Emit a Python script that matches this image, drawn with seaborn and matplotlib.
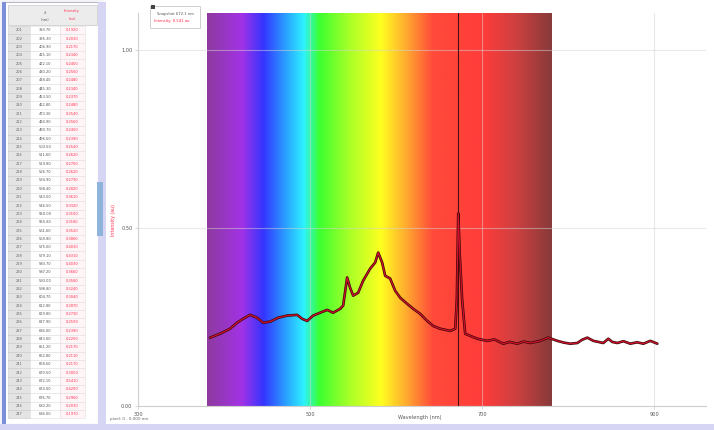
import numpy as np
import pandas as pd
import matplotlib
matplotlib.use("Agg")
import matplotlib.pyplot as plt
import matplotlib.patheffects as pe
from matplotlib.colors import LinearSegmentedColormap
from matplotlib.patches import Rectangle
import seaborn as sns

# ---------------- data ----------------
wavelength = [383.7, 395.3, 406.9, 415.1, 422.1, 430.2, 438.4, 445.3, 453.5, 462.8,
              473.3, 484.9, 490.7, 496.5, 503.5, 511.6, 519.8, 526.7, 534.9, 538.4,
              543.0, 546.5, 550.0, 555.8, 561.6, 569.8, 575.6, 579.1, 583.7, 587.2,
              593.0, 598.8, 604.7, 612.8, 619.8, 627.9, 636.0, 643.0, 651.2, 662.8,
              668.6, 670.5, 672.1, 674.0, 676.7, 680.2, 686.0, 694.2, 705.8, 714.0,
              724.4, 732.0, 740.7, 748.0, 755.8, 767.4, 776.7, 787.2, 795.0, 802.3,
              810.5, 816.0, 822.1, 829.1, 840.7, 846.5, 851.0, 857.0, 864.0, 872.1,
              880.0, 887.2, 895.3, 903.5]
intensity = [0.192, 0.203, 0.217, 0.234, 0.245, 0.256, 0.248, 0.234, 0.237, 0.248,
             0.254, 0.256, 0.245, 0.239, 0.254, 0.262, 0.270, 0.262, 0.273, 0.282,
             0.361, 0.332, 0.310, 0.318, 0.352, 0.386, 0.403, 0.431, 0.403, 0.366,
             0.358, 0.324, 0.304, 0.287, 0.273, 0.259, 0.239, 0.225, 0.217, 0.211,
             0.217, 0.300, 0.541, 0.420, 0.296, 0.203, 0.197, 0.189, 0.183, 0.187,
             0.175, 0.180, 0.175, 0.181, 0.177, 0.183, 0.192, 0.183, 0.178, 0.175,
             0.177, 0.186, 0.192, 0.183, 0.177, 0.189, 0.180, 0.177, 0.182, 0.175,
             0.179, 0.175, 0.183, 0.175]
cursor_nm = 672.1
x_major = [300, 500, 700, 900]
x_minor = [400, 600, 800]
y_ticks = [0.0, 0.5, 1.0]
y_labels = ["0.00", "0.50", "1.00"]
band_nm = [380, 420, 445, 470, 492, 510, 545, 582, 612, 642, 700, 740, 780]
band_colors = ["#8e3aa0", "#a232e6", "#3434ff", "#2a9cff", "#2ef2ff", "#3cff30",
               "#a8ff28", "#ffff20", "#ffa830", "#ff4a3a", "#ff3c3a", "#cc4040", "#883a3a"]

df = pd.DataFrame({"wavelength": wavelength, "intensity": intensity})

W, H = 714, 430
fig = plt.figure(figsize=(W / 100, H / 100), dpi=100)
sns.set_style("white")
fig.patch.set_facecolor("white")


def fx(x):
    return x / W


def fy(y):
    return 1 - y / H


def prect(x0, y0, x1, y1, **kw):
    fig.patches.append(Rectangle((fx(x0), fy(y1)), fx(x1) - fx(x0), fy(y0) - fy(y1),
                                 transform=fig.transFigure, **kw))


# ---------------- left table panel ----------------
prect(0, 0, 104, 430, facecolor="#f4f4f8", edgecolor="none")
prect(2, 2, 98, 424, facecolor="white", edgecolor="#b8b8c8", lw=0.8)
prect(2, 2, 6, 424, facecolor="#7d8fd8", edgecolor="none")
prect(98, 2, 106, 426, facecolor="#d6d6f4", edgecolor="none")
prect(97, 182, 103, 236, facecolor="#8fb4dc", edgecolor="none")
prect(0, 424, 714, 430, facecolor="#d6d6f4", edgecolor="none")

prect(8, 5, 97, 25, facecolor="#ececec", edgecolor="#c8c8c8", lw=0.5)
fig.text(fx(45), fy(13), "λ", fontsize=3, color="#555555", ha="center", va="center")
fig.text(fx(45), fy(20), "(nm)", fontsize=2.6, color="#555555", ha="center", va="center")
fig.text(fx(72), fy(11), "Intensity", fontsize=2.6, color="#ff3355", ha="center", va="center")
fig.text(fx(72), fy(19), "(au)", fontsize=2.6, color="#ff3355", ha="center", va="center")

n_rows = 47
row_h = 8.35
y0 = 26
for i in range(n_rows):
    yt = y0 + i * row_h
    prect(8, yt, 30, yt + row_h, facecolor="#e4e4e4", edgecolor="#c8c8c8", lw=0.4)
    prect(30, yt, 60, yt + row_h, facecolor="white", edgecolor="#e0e0e0", lw=0.4)
    prect(60, yt, 85, yt + row_h, facecolor="#fff4f6", edgecolor="#e0e0e0", lw=0.4)
    yc = yt + row_h / 2
    fig.text(fx(19), fy(yc), f"{201 + i}", fontsize=2.6, color="#666666", ha="center", va="center")
    fig.text(fx(45), fy(yc), f"{wavelength[i]:.2f}", fontsize=2.6, color="#555555",
             ha="center", va="center")
    fig.text(fx(72), fy(yc), f"{intensity[i]:.4f}", fontsize=2.6, color="#ff3355",
             ha="center", va="center")

# ---------------- main axes ----------------
ax_l, ax_r, ax_t, ax_b = 138, 706, 13, 406
ax = fig.add_axes([fx(ax_l), fy(ax_b), fx(ax_r) - fx(ax_l), fy(ax_t) - fy(ax_b)])
ax.set_facecolor("white")
xmin, xmax = 300, 960
ymin, ymax = 0.0, 1.104
ax.set_xlim(xmin, xmax)
ax.set_ylim(ymin, ymax)

stops = [(w - band_nm[0]) / (band_nm[-1] - band_nm[0]) for w in band_nm]
cmap = LinearSegmentedColormap.from_list("vis", list(zip(stops, band_colors)))
grad = np.linspace(0, 1, 512)[None, :]
ax.imshow(grad, cmap=cmap, aspect="auto", extent=[band_nm[0], band_nm[-1], ymin, ymax],
          zorder=0.5, interpolation="bilinear")

ax.set_xticks(x_major)
ax.set_xticks(x_minor, minor=True)
ax.set_xticklabels([str(v) for v in x_major])
ax.set_yticks(y_ticks)
ax.set_yticklabels(y_labels)
ax.set_axisbelow(False)
ax.grid(True, which="major", color="#d4d4d4", lw=0.8, alpha=0.5)
for g in ax.get_xgridlines() + ax.get_ygridlines():
    g.set_zorder(1)

sns.lineplot(data=df, x="wavelength", y="intensity", ax=ax, color="#d0102c", lw=0.9,
             zorder=3, path_effects=[pe.Stroke(linewidth=1.9, foreground="#3a0808"), pe.Normal()])
ax.axvline(cursor_nm, color="#4a1010", lw=0.8, zorder=2.8)

ax.set_xlabel("")
ax.set_ylabel("")
for s in ["top", "right"]:
    ax.spines[s].set_visible(False)
for s in ["left", "bottom"]:
    ax.spines[s].set_color("#cfcfcf")
    ax.spines[s].set_linewidth(0.8)
ax.tick_params(axis="both", which="major", labelsize=3.6, colors="#cfcfcf", labelcolor="#555555",
               length=2, width=0.6, pad=2)
ax.tick_params(axis="x", which="minor", length=2, width=0.6, colors="#aaaaaa")
ax.tick_params(axis="x", which="major", bottom=True)
ax.tick_params(axis="y", which="major", left=True)

# axis titles
fig.text(fx(420), fy(418), "Wavelength (nm)", fontsize=3.6, color="#555555", ha="center", va="center")
fig.text(fx(113), fy(220), "Intensity (au)", fontsize=3.4, color="#ff3355", ha="center",
         va="center", rotation=90)
fig.text(fx(110), fy(419), "pixel: 0 , 0.000 nm", fontsize=3.0, color="#666666", ha="left", va="center")

# legend / snapshot box
prect(151, 7, 201, 29, facecolor="#e8e8e8", edgecolor="none")
prect(150, 6, 200, 28, facecolor="white", edgecolor="#c8c8c8", lw=0.6)
prect(151, 5, 155, 9, facecolor="#444444", edgecolor="none")
fig.text(fx(157), fy(13.5), f"Snapshot {cursor_nm:.1f} nm", fontsize=2.7, color="#555555",
         ha="left", va="center")
fig.text(fx(154), fy(21), f"Intensity: {max(intensity):.3f} au", fontsize=2.7, color="#ff2040",
         ha="left", va="center")

fig.savefig("out.png", dpi=100)
